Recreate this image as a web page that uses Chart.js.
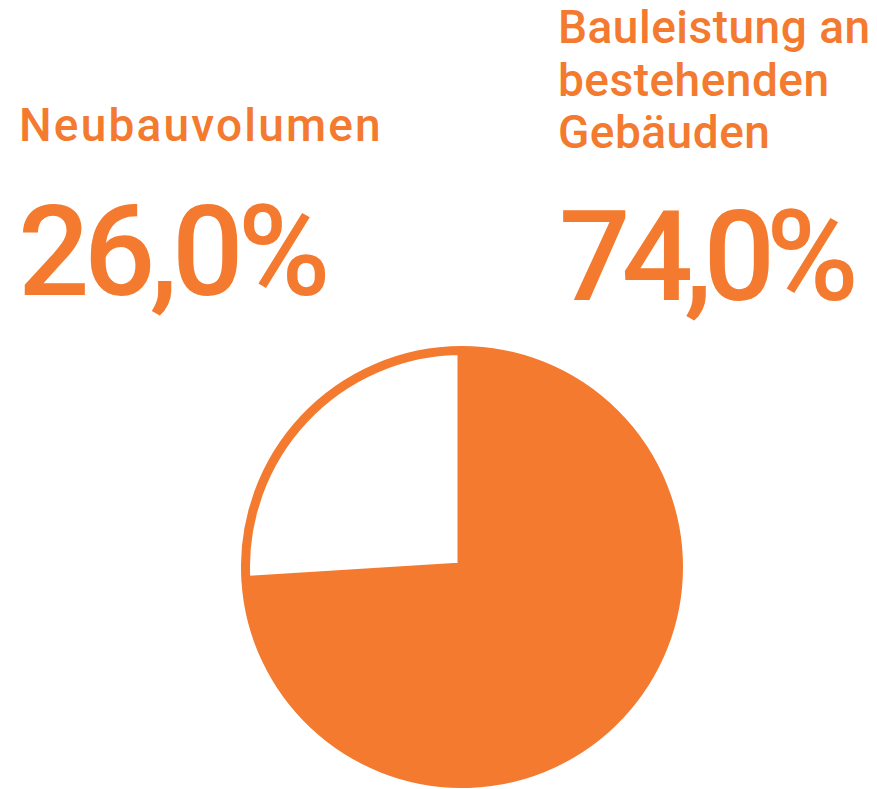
<!DOCTYPE html>
<html>
<head>
<meta charset="utf-8">
<script src="https://cdn.jsdelivr.net/npm/chart.js@4"></script>
<style>
  body { margin: 0; background: #fff; width: 877px; height: 789px; overflow: hidden; position: relative; }
  .lbl { position: absolute; color: #F37A2E; font-family: Roboto, sans-serif; font-weight: 500; white-space: nowrap; }
  .cat { font-size: 46px; line-height: 52.5px; }
  .val { font-size: 126px; line-height: 1; }
  #pie { position: absolute; left: 241px; top: 346px; }
</style>
</head>
<body>
<div id="catNeu" class="lbl cat" style="left:19px; top:99px; letter-spacing:2.2px;"></div>
<div id="valNeu" class="lbl val" style="left:18px; top:189px; letter-spacing:-5.8px;"></div>
<div id="catBest" class="lbl cat" style="left:558px; top:1px; letter-spacing:0.5px;"></div>
<div id="valBest" class="lbl val" style="left:559px; top:194px; letter-spacing:-9px;"></div>
<canvas id="pie" width="442" height="442"></canvas>
<script>
// Anteile am Bauvolumen
const kategorien = [["Bauleistung an", "bestehenden", "Gebäuden"], ["Neubauvolumen"]];
const anteile = [74.0, 26.0];
const farben = ["#F37A2E", "#FFFFFF"];
const orange = "#F37A2E";

function prozent(v) {
  return v.toFixed(1).replace(".", ",") + "%";
}

document.getElementById("catBest").innerHTML = kategorien[0].join("<br>");
document.getElementById("valBest").textContent = prozent(anteile[0]);
document.getElementById("catNeu").innerHTML = kategorien[1].join("<br>");
document.getElementById("valNeu").textContent = prozent(anteile[1]);

const graf = document.getElementById("pie");

let conf = {
  type: 'pie',
  data: {
    labels: kategorien,
    datasets: [{
      data: anteile,
      backgroundColor: farben,
      borderColor: orange,
      borderWidth: 9
    }]
  },
  options: {
    responsive: false,
    animation: false,
    layout: { padding: 0 },
    plugins: {
      legend: { display: false },
      tooltip: { enabled: false }
    }
  }
};

new Chart(graf, conf);
</script>
</body>
</html>
